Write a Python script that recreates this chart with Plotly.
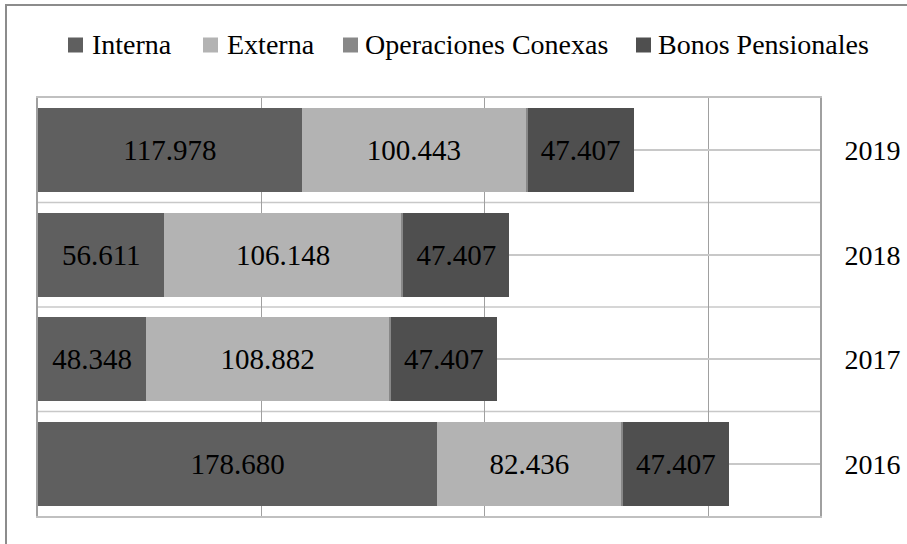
import plotly.graph_objects as go

# Años (de abajo hacia arriba) y componentes de la deuda
years = ["2016", "2017", "2018", "2019"]
interna = [178.680, 48.348, 56.611, 117.978]
externa = [82.436, 108.882, 106.148, 100.443]
conexas = [0.7, 0.7, 0.75, 0.7]
bonos = [47.407, 47.407, 47.407, 47.407]

series_names = ["Interna", "Externa", "Operaciones Conexas", "Bonos Pensionales"]
series_values = [interna, externa, conexas, bonos]
series_colors = ["#5f5f5f", "#b3b3b3", "#888888", "#4f4f4f"]
show_text = [True, True, False, True]

FONT = "Liberation Serif"
W, H = 907, 544
L, R, T, B = 38, 87, 98, 28
PW, PH = W - L - R, H - T - B


def fmt(v):
    return f"{v:.3f}"


def px_x(p):
    return (p - L) / PW


def px_y(p):
    return (H - B - p) / PH


label_font = dict(family=FONT, size=29, color="#000000")

fig = go.Figure()
for name, vals, col, st in zip(series_names, series_values, series_colors, show_text):
    fig.add_trace(go.Bar(
        y=list(range(len(years))), x=vals, orientation="h", name=name,
        marker=dict(color=col, line=dict(width=0)),
        text=[fmt(v) for v in vals] if st else None,
        textposition="inside" if st else "none",
        insidetextanchor="middle", textangle=0,
        textfont=label_font, insidetextfont=label_font,
        showlegend=False, hoverinfo="skip",
    ))

shapes = []
# Líneas horizontales entre categorías
for b in [0.5, 1.5, 2.5]:
    shapes.append(dict(type="line", xref="x domain", yref="y", x0=0, x1=1, y0=b, y1=b,
                       line=dict(color="#c8c8c8", width=1.5), layer="below"))

# Marco exterior del gráfico
shapes.append(dict(type="rect", xref="paper", yref="paper",
                   x0=px_x(6), x1=px_x(910), y0=px_y(560), y1=px_y(5),
                   line=dict(color="#8c8c8c", width=2), fillcolor="rgba(0,0,0,0)", layer="below"))

# Leyenda
annotations = []
legend_marker_x = [68, 203, 343, 636]
legend_text_x = [90, 225, 363, 656]
ly = 45
for name, col, mx, tx in zip(series_names, series_colors, legend_marker_x, legend_text_x):
    shapes.append(dict(type="rect", xref="paper", yref="paper",
                       x0=px_x(mx), x1=px_x(mx + 15), y0=px_y(ly + 7.5), y1=px_y(ly - 7.5),
                       line=dict(width=0), fillcolor=col))
    annotations.append(dict(xref="paper", yref="paper", x=px_x(tx), y=px_y(ly),
                            xanchor="left", yanchor="middle", text=name, showarrow=False,
                            font=dict(family=FONT, size=28, color="#000000")))

fig.update_layout(
    width=W, height=H,
    font=dict(family=FONT, size=28, color="#000000"),
    margin=dict(l=L, r=R, t=T, b=B, pad=0, autoexpand=False),
    barmode="stack", bargap=0.2,
    paper_bgcolor="white", plot_bgcolor="white",
    showlegend=False, uniformtext=dict(mode=False),
    shapes=shapes, annotations=annotations,
    xaxis=dict(range=[0, 350], dtick=100, tick0=0, showticklabels=False, automargin=False,
               showgrid=True, gridcolor="#a0a0a0", gridwidth=1, zeroline=False,
               showline=True, mirror=True, linecolor="#c0c0c0", linewidth=2, ticks=""),
    yaxis=dict(range=[-0.5, 3.5], tickmode="array", tickvals=list(range(len(years))),
               ticktext=years, side="right", automargin=False,
               showgrid=True, gridcolor="#c8c8c8", gridwidth=1.5,
               zeroline=False, showline=True, mirror=True, linecolor="#a0a0a0", linewidth=2,
               ticks="outside", ticklen=17, tickcolor="rgba(0,0,0,0)",
               tickfont=dict(family=FONT, size=28, color="#000000")),
)

fig.write_html("out.html")
